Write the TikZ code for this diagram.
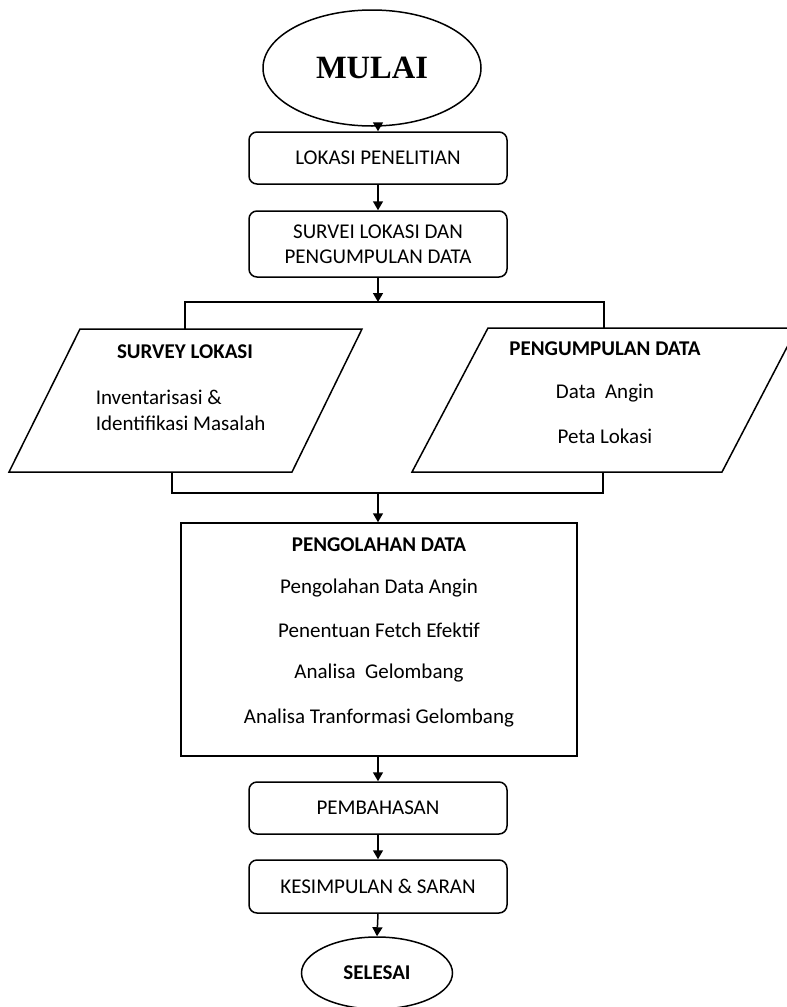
\documentclass[tikz,border=0pt]{standalone}
\usepackage{fontspec}
\setmainfont{Carlito}
\newfontfamily\timesfont{Liberation Serif}
\usetikzlibrary{shapes.geometric,arrows.meta}
\begin{document}
\begin{tikzpicture}[x=1pt,y=-1pt, line width=1.5pt,
  every node/.style={font=\fontsize{21}{25}\selectfont, inner sep=0pt},
  rbox/.style={draw, rounded corners=8pt, minimum width=258pt, align=center},
  txt/.style={font=\fontsize{21}{25}\selectfont},
  ttl/.style={font=\fontsize{21}{25}\selectfont\bfseries},
  arr/.style={-{Triangle[length=9pt,width=10pt]}},
  ]
\clip (0,0) rectangle (787,1007);
% start
\node[draw, ellipse, minimum width=218pt, minimum height=116pt,
      font=\timesfont\bfseries\fontsize{32.5}{36}\selectfont] (mulai) at (372,68) {MULAI};
\node[rbox, minimum height=52pt] (lokasi) at (378,158) {LOKASI PENELITIAN};
\node[rbox, minimum height=66pt] (survei) at (378,244) {SURVEI LOKASI DAN\\PENGUMPULAN DATA};
% parallelograms
\draw (80,329) -- (362,329) -- (292,472) -- (9,472) -- cycle;
\draw (488,328) -- (797,328) -- (722,472) -- (412,472) -- cycle;
\node[ttl] (sl) at (185,352) {SURVEY LOKASI};
\node[txt, anchor=west] (inv) at (95,397) {Inventarisasi \&};
\node[txt, anchor=west] (idm) at (95,423) {Identifikasi Masalah};
\node[ttl] (pd) at (605,349) {PENGUMPULAN DATA};
\node[txt] (da) at (605,393) {Data\ \ Angin};
\node[txt] (pl) at (605,436) {Peta Lokasi};
% processing box
\node[draw, minimum width=396pt, minimum height=233pt] (olah) at (379,639.5) {};
\node[ttl] (o0) at (379,545) {PENGOLAHAN DATA};
\node[txt] (o1) at (379,588) {Pengolahan Data Angin};
\node[txt] (o2) at (379,630) {Penentuan Fetch Efektif};
\node[txt] (o3) at (379,673) {Analisa\ \ Gelombang};
\node[txt] (o4) at (379,718) {Analisa Tranformasi Gelombang};
\node[rbox, minimum height=52pt] (bahas) at (378,808) {PEMBAHASAN};
\node[rbox, minimum height=53pt] (simpul) at (378,886.5) {KESIMPULAN \& SARAN};
\node[draw, ellipse, minimum width=151pt, minimum height=72pt, font=\fontsize{21}{25}\selectfont\bfseries] (selesai) at (377,973) {SELESAI};
% junction coordinates
\coordinate (j1) at (378,302);
\coordinate (jl) at (185,302);
\coordinate (jr) at (604,302);
\coordinate (ltop) at (185,329);
\coordinate (rtop) at (604,328);
\coordinate (lbot) at (172,472);
\coordinate (rbot) at (603,472);
\coordinate (jbl) at (172,493);
\coordinate (jbr) at (603,493);
\coordinate (j2) at (378,493);
% connectors
\draw[arr] (mulai.south -| lokasi) -- (lokasi.north);
\draw[arr] (lokasi.south) -- (survei.north);
\draw[arr] (survei.south) -- (j1);
\draw (ltop) -- (jl) -- (jr) -- (rtop);
\draw (lbot) -- (jbl) -- (jbr) -- (rbot);
\draw[arr] (j2) -- (j2 |- olah.north);
\draw[arr] (olah.south -| bahas) -- (bahas.north);
\draw[arr] (bahas.south) -- (simpul.north);
\draw[arr] (simpul.south) -- (selesai.north);
\end{tikzpicture}
\end{document}
